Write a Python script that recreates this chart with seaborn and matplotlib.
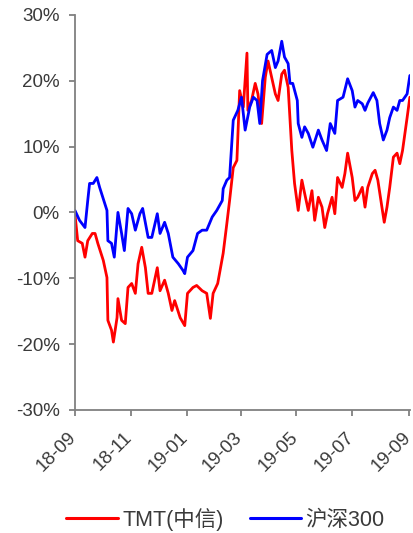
import matplotlib
matplotlib.use("Agg")
import matplotlib.pyplot as plt
import matplotlib.dates as mdates
import matplotlib.transforms as mtransforms
from matplotlib.ticker import FuncFormatter
import pandas as pd
import seaborn as sns

# TMT(中信) cumulative return, %
tmt_dates = [
    "2018-09-01", "2018-09-04", "2018-09-09", "2018-09-12", "2018-09-15", "2018-09-20",
    "2018-09-23", "2018-09-26", "2018-10-02", "2018-10-06", "2018-10-07", "2018-10-11",
    "2018-10-13", "2018-10-17", "2018-10-18", "2018-10-22", "2018-10-26", "2018-10-29",
    "2018-11-02", "2018-11-06", "2018-11-09", "2018-11-13", "2018-11-17", "2018-11-20",
    "2018-11-24", "2018-11-30", "2018-12-03", "2018-12-08", "2018-12-12", "2018-12-16",
    "2018-12-19", "2018-12-25", "2018-12-30", "2019-01-02", "2019-01-08", "2019-01-12",
    "2019-01-18", "2019-01-23", "2019-01-27", "2019-01-30", "2019-02-04", "2019-02-10",
    "2019-02-14", "2019-02-17", "2019-02-21", "2019-02-25", "2019-02-28", "2019-03-04",
    "2019-03-08", "2019-03-09", "2019-03-13", "2019-03-17", "2019-03-20", "2019-03-24",
    "2019-03-28", "2019-03-31", "2019-04-04", "2019-04-08", "2019-04-11", "2019-04-15",
    "2019-04-18", "2019-04-22", "2019-04-26", "2019-04-29", "2019-05-03", "2019-05-07",
    "2019-05-10", "2019-05-14", "2019-05-18", "2019-05-21", "2019-05-25", "2019-05-29",
    "2019-06-01", "2019-06-04", "2019-06-09", "2019-06-12", "2019-06-15", "2019-06-20",
    "2019-06-23", "2019-06-26", "2019-07-01", "2019-07-04", "2019-07-07", "2019-07-12",
    "2019-07-15", "2019-07-18", "2019-07-23", "2019-07-26", "2019-07-29", "2019-08-03",
    "2019-08-05", "2019-08-08", "2019-08-11", "2019-08-15", "2019-08-19", "2019-08-22",
    "2019-08-25", "2019-08-30", "2019-09-02",
]
tmt_values = [
    -0.2, -4.3, -4.7, -6.8, -4.3, -3.2,
    -3.2, -4.7, -7.3, -9.9, -16.4, -17.9,
    -19.7, -16.0, -13.1, -16.4, -16.9, -11.4,
    -10.8, -12.3, -7.8, -5.3, -8.4, -12.3,
    -12.3, -8.4, -11.9, -10.3, -12.3, -14.9,
    -13.4, -16.0, -17.2, -12.3, -11.4, -11.1,
    -11.9, -12.3, -16.1, -12.3, -10.8, -6.2,
    -1.7, 1.8, 6.8, 7.9, 18.5, 16.0,
    24.2, 15.5, 17.0, 19.6, 18.0, 13.5,
    20.5, 23.0, 20.5, 18.0, 17.0, 21.0,
    21.6, 19.0, 9.4, 4.4, 0.3, 4.9,
    2.9, 0.3, 3.3, -1.2, 2.3, 0.8,
    -2.3, -0.2, 2.3, -0.2, 5.3, 3.8,
    5.9, 9.0, 5.3, 1.8, 2.3, 3.8,
    0.8, 3.8, 5.9, 6.4, 4.9, 0.3,
    -1.5, 0.8, 3.8, 8.4, 9.0, 7.4,
    9.4, 14.4, 17.5,
]

# 沪深300 cumulative return, %
hs300_dates = [
    "2018-09-01", "2018-09-06", "2018-09-12", "2018-09-15", "2018-09-17", "2018-09-21",
    "2018-09-25", "2018-09-28", "2018-10-06", "2018-10-07", "2018-10-11", "2018-10-14",
    "2018-10-18", "2018-10-22", "2018-10-25", "2018-10-29", "2018-11-02", "2018-11-06",
    "2018-11-11", "2018-11-14", "2018-11-20", "2018-11-24", "2018-11-30", "2018-12-03",
    "2018-12-08", "2018-12-12", "2018-12-17", "2018-12-23", "2018-12-28", "2018-12-30",
    "2019-01-02", "2019-01-08", "2019-01-13", "2019-01-18", "2019-01-23", "2019-01-29",
    "2019-02-03", "2019-02-09", "2019-02-10", "2019-02-14", "2019-02-17", "2019-02-21",
    "2019-02-26", "2019-03-02", "2019-03-06", "2019-03-11", "2019-03-15", "2019-03-19",
    "2019-03-22", "2019-03-25", "2019-03-30", "2019-04-04", "2019-04-08", "2019-04-11",
    "2019-04-15", "2019-04-18", "2019-04-22", "2019-04-24", "2019-04-27", "2019-05-02",
    "2019-05-03", "2019-05-07", "2019-05-10", "2019-05-14", "2019-05-19", "2019-05-25",
    "2019-05-29", "2019-06-03", "2019-06-07", "2019-06-12", "2019-06-15", "2019-06-21",
    "2019-06-26", "2019-07-01", "2019-07-04", "2019-07-07", "2019-07-12", "2019-07-15",
    "2019-07-18", "2019-07-24", "2019-07-28", "2019-07-31", "2019-08-04", "2019-08-08",
    "2019-08-11", "2019-08-15", "2019-08-19", "2019-08-22", "2019-08-25", "2019-08-30",
    "2019-09-02",
]
hs300_values = [
    0.3, -1.2, -2.3, 1.8, 4.4, 4.4,
    5.3, 3.8, 0.3, -4.3, -4.7, -6.8,
    0.0, -3.2, -5.8, 0.6, -0.2, -2.7,
    -0.2, 0.6, -3.8, -3.8, -0.2, -3.2,
    -1.5, -3.2, -6.8, -7.8, -8.8, -9.3,
    -6.8, -5.8, -3.2, -2.7, -2.7, -0.7,
    0.3, 1.8, 3.6, 4.9, 5.3, 14.0,
    15.5, 17.5, 12.5, 16.0, 17.5, 17.0,
    13.5, 20.0, 24.0, 24.6, 22.0, 23.0,
    26.0, 23.6, 22.6, 19.6, 19.6, 17.0,
    13.5, 11.4, 13.0, 12.0, 9.9, 12.5,
    11.0, 9.4, 13.5, 12.0, 17.0, 17.5,
    20.3, 18.5, 16.0, 17.0, 16.5, 15.5,
    16.6, 18.2, 17.0, 13.5, 11.0, 12.5,
    14.4, 16.0, 15.5, 17.0, 17.0, 18.0,
    20.8,
]

series_names = ["TMT(中信)", "沪深300"]
series_colors = ["#FF0000", "#0000FF"]
x_ticks = ["2018-09-01", "2018-11-01", "2019-01-01", "2019-03-01",
           "2019-05-01", "2019-07-01", "2019-09-01"]
y_ticks = [-30, -20, -10, 0, 10, 20, 30]

df = pd.concat([
    pd.DataFrame({"date": pd.to_datetime(tmt_dates), "value": tmt_values, "series": series_names[0]}),
    pd.DataFrame({"date": pd.to_datetime(hs300_dates), "value": hs300_values, "series": series_names[1]}),
], ignore_index=True)

sns.set_theme(style="white")
plt.rcParams["font.family"] = ["Liberation Sans", "Noto Sans CJK SC", "DejaVu Sans"]

fig = plt.figure(figsize=(4.14, 5.33), dpi=100)
ax = fig.add_axes([0.181, 0.231, 0.809, 0.741])

sns.lineplot(data=df, x="date", y="value", hue="series", hue_order=series_names,
             palette=series_colors, linewidth=2.0, ax=ax, legend=False, estimator=None)

ax.set_xlim(pd.Timestamp("2018-09-01"), pd.Timestamp("2019-09-02"))
ax.set_ylim(-30, 30)
ax.set_xticks(pd.to_datetime(x_ticks))
ax.xaxis.set_major_formatter(mdates.DateFormatter("%y-%m"))
ax.set_yticks(y_ticks)
ax.yaxis.set_major_formatter(FuncFormatter(lambda v, p: f"{v:.0f}%"))
ax.set_xlabel("")
ax.set_ylabel("")

for side in ["top", "right"]:
    ax.spines[side].set_visible(False)
for side in ["left", "bottom"]:
    ax.spines[side].set_color("#808080")
    ax.spines[side].set_linewidth(1.3)

ax.tick_params(axis="both", direction="out", length=4, width=1.3, color="#808080",
               labelsize=13.5, labelcolor="#3a3a3a", bottom=True, left=True)
ax.tick_params(axis="y", pad=7)
ax.tick_params(axis="x", pad=5)

# décalage des étiquettes de dates (bas-gauche) pour ne pas couper "19-09"
shift = mtransforms.ScaledTranslation(-7 / 100, -6 / 100, fig.dpi_scale_trans)
for lab in ax.get_xticklabels():
    lab.set_rotation(45)
    lab.set_ha("right")
    lab.set_rotation_mode("anchor")
    lab.set_transform(lab.get_transform() + shift)

handles = [plt.Line2D([], [], color=c, linewidth=2.2) for c in series_colors]
fig.legend(handles, series_names, loc="center", bbox_to_anchor=(0.545, 0.026), ncol=2,
           frameon=False, fontsize=15.5, handlelength=2.4, handletextpad=0.2,
           columnspacing=1.2, labelcolor="#3a3a3a", borderaxespad=0, borderpad=0)

fig.savefig("out.png", dpi=100)
